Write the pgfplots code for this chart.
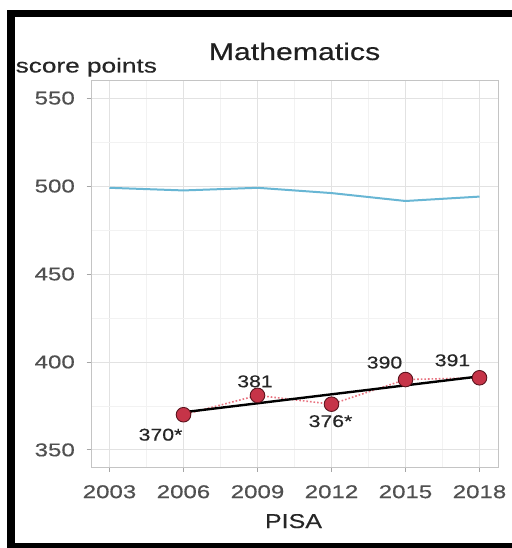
\documentclass[border=0pt]{standalone}
\usepackage{pgfplots}
\pgfplotsset{compat=1.18}
\usepackage{fontspec}
\setmainfont{Liberation Sans}[FakeBold=0.35]
\usepackage{graphicx}
% horizontally widened text
\newcommand\wide[2][1.3]{\scalebox{#1}[1]{#2}}
\definecolor{oecdblue}{RGB}{104,182,212}
\definecolor{ptred}{RGB}{198,52,72}
\definecolor{ptedge}{RGB}{90,20,30}
\definecolor{trendpink}{RGB}{232,115,128}
\definecolor{ticktext}{RGB}{80,80,80}
\definecolor{gridmajor}{RGB}{226,226,226}
\definecolor{gridminor}{RGB}{242,242,242}
\definecolor{panelborder}{RGB}{196,196,196}

\begin{document}
\begin{tikzpicture}
\useasboundingbox (0,0) rectangle (512bp,548bp);
\fill[white] (0,0) rectangle (512bp,548bp);
% frame
\fill[black] (6.7bp,530.5bp) rectangle (512bp,538bp);
\fill[black] (6.7bp,0bp) rectangle (15bp,538bp);
\fill[black] (6.7bp,0bp) rectangle (512bp,5bp);

\begin{axis}[
  at={(91bp,80.5bp)}, anchor=south west,
  scale only axis, width=407bp, height=387bp,
  xmin=2002.25, xmax=2018.75, ymin=340, ymax=560,
  xtick={2003,2006,2009,2012,2015,2018},
  xticklabels={\wide{2003},\wide{2006},\wide{2009},\wide{2012},\wide{2015},\wide{2018}},
  ytick={350,400,450,500,550},
  yticklabels={\wide{350},\wide{400},\wide{450},\wide{500},\wide{550}},
  minor xtick={2004.5,2007.5,2010.5,2013.5,2016.5},
  minor ytick={375,425,475,525},
  grid=both,
  major grid style={draw=gridmajor, line width=0.9bp},
  minor grid style={draw=gridminor, line width=0.7bp},
  axis line style={draw=panelborder, line width=0.9bp},
  tick align=outside,
  xtick pos=lower, ytick pos=left,
  major tick length=4.5bp, minor tick length=0bp,
  major tick style={draw=gray!70, line width=0.9bp},
  ticklabel style={font=\fontsize{18.5bp}{20bp}\selectfont, text=ticktext, inner sep=0pt},
  yticklabel style={anchor=east, xshift=-11.5bp},
  xticklabel style={anchor=north, yshift=-13bp},
  clip=false,
]
% OECD average
\addplot[oecdblue, line width=2bp, no markers] coordinates {
  (2003,499) (2006,497.5) (2009,499) (2012,496) (2015,491.5) (2018,494)};
% country scores joined by a dotted line
\addplot[trendpink, line width=1.6bp, dotted, no markers] coordinates {
  (2006,370) (2009,381) (2012,376) (2015,390) (2018,391)};
% linear trend
\addplot[black, line width=2.4bp, no markers] coordinates {
  (2006,371.4) (2018,391.8)};
\addplot[only marks, mark=*, mark size=7.3bp,
  mark options={fill=ptred, draw=ptedge, line width=0.9bp}] coordinates {
  (2006,370) (2009,381) (2012,376) (2015,390) (2018,391)};
\begin{scope}[every node/.style={font=\fontsize{17bp}{19bp}\selectfont, text=black!85, inner sep=0pt}]
\node at (axis cs:2006,370) [xshift=-23bp, yshift=-20bp] {\wide[1.25]{370*}};
\node at (axis cs:2009,381) [xshift=-2.5bp, yshift=14bp] {\wide[1.25]{381}};
\node at (axis cs:2012,376) [xshift=-1bp, yshift=-17bp] {\wide[1.25]{376*}};
\node at (axis cs:2015,390) [xshift=-21bp, yshift=17bp] {\wide[1.25]{390}};
\node at (axis cs:2018,391) [xshift=-27bp, yshift=17.5bp] {\wide[1.25]{391}};
\end{scope}
\end{axis}

\node[anchor=base, inner sep=0pt, text=black!88, font=\fontsize{24bp}{26bp}\selectfont]
  at (294.5bp,488bp) {\wide[1.26]{Mathematics}};
\node[anchor=base west, inner sep=0pt, text=black!85, font=\fontsize{20bp}{22bp}\selectfont]
  at (15.5bp,475.5bp) {\wide[1.31]{score points}};
\node[anchor=base, inner sep=0pt, text=black!85, font=\fontsize{20bp}{22bp}\selectfont]
  at (293.5bp,20bp) {\wide[1.25]{PISA}};
\end{tikzpicture}
\end{document}
